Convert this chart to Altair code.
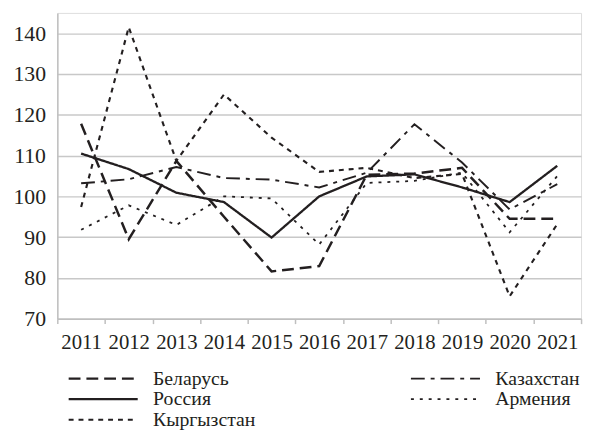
import altair as alt
import pandas as pd

years = [str(y) for y in range(2011, 2022)]
# order chosen so the 2-column (column-major) legend reads like the reference
countries = ["Беларусь", "Россия", "Кыргызстан", "Казахстан", "Армения"]

belarus = [117.8, 89.5, 108.7, 95.0, 81.6, 82.9, 105.3, 105.6, 107.0, 94.5, 94.5]
russia = [110.5, 106.7, 100.9, 98.6, 89.9, 100.0, 104.9, 105.4, 102.2, 98.6, 107.5]
kyrgyzstan = [97.4, 141.5, 108.7, 125.0, 114.4, 106.0, 107.0, 104.5, 105.5, 75.5, 93.2]
kazakhstan = [103.2, 104.2, 107.2, 104.5, 104.1, 102.2, 105.8, 117.7, 108.3, 96.8, 103.0]
armenia = [91.8, 97.8, 93.0, 100.0, 99.5, 88.2, 103.3, 103.8, 105.8, 91.2, 105.0]

y_ticks = [70, 80, 90, 100, 110, 120, 130, 140]

rows = []
for c, vals in zip(countries, [belarus, russia, kyrgyzstan, kazakhstan, armenia]):
    for yr, v in zip(years, vals):
        rows.append({"year": yr, "country": c, "value": v})
df = pd.DataFrame(rows)

dashes = [[12, 6], [1, 0], [5, 5], [14, 6, 4, 6], [3, 6]]
widths = [2.5, 1.8, 2.4, 2.3, 2.4]

FONT = "Times New Roman"
INK = "#231f20"

chart = alt.Chart(df).mark_line(color=INK).encode(
    x=alt.X(
        "year:O",
        bandPosition=0.5,
        scale=alt.Scale(type="band", paddingInner=0, paddingOuter=0),
        axis=alt.Axis(
            title=None, labelAngle=0, tickBand="extent", ticks=True, tickSize=5,
            tickColor="#bfbfbf", tickWidth=1.5, domainColor="#bfbfbf", domainWidth=1.5,
            labelFont=FONT, labelFontSize=21, labelColor=INK, labelPadding=8, grid=False,
        ),
    ),
    y=alt.Y(
        "value:Q",
        scale=alt.Scale(domain=[70, 145], nice=False, zero=False),
        axis=alt.Axis(
            title=None, values=y_ticks, ticks=False, domainColor="#bfbfbf", domainWidth=1.5,
            gridColor="#c8c8c8", gridWidth=1.5, labelFont=FONT, labelFontSize=22,
            labelColor=INK, labelPadding=12,
        ),
    ),
    strokeDash=alt.StrokeDash(
        "country:N",
        sort=countries,
        scale=alt.Scale(domain=countries, range=dashes),
        legend=alt.Legend(
            title=None, orient="none", legendX=10, legendY=361, columns=2,
            columnPadding=156, symbolType="stroke", symbolSize=4900,
            symbolStrokeWidth=2.2, symbolStrokeColor=INK, labelFont=FONT,
            labelFontSize=20, labelColor=INK, labelOffset=14, rowPadding=0,
            clipHeight=19,
        ),
    ),
    strokeWidth=alt.StrokeWidth(
        "country:N", scale=alt.Scale(domain=countries, range=widths), legend=None
    ),
).properties(
    width=531, height=310,
    padding={"left": 50, "top": 2, "right": 5, "bottom": 120},
    autosize=alt.AutoSizeParams(type="none"),
).configure_view(stroke=None).configure(font=FONT)

chart.save("out.html", embed_options={"renderer": "svg", "actions": False})
